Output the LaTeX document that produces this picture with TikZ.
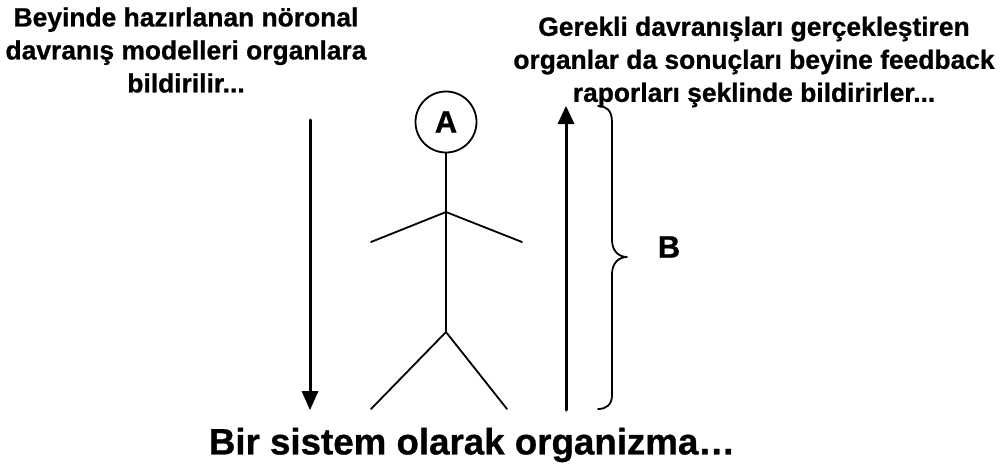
\documentclass[tikz,border=0pt]{standalone}
\usepackage{fontspec}
\setmainfont[BoldFeatures={FakeBold=0.8}]{Liberation Sans}
\begin{document}
\begin{tikzpicture}[x=1pt,y=-1pt,line join=round,line cap=round,>=stealth,
	txt/.style={font=\bfseries\fontsize{26.4}{33}\selectfont,align=center,inner sep=0pt},
	bigtxt/.style={font=\bfseries\fontsize{31}{34}\selectfont,inner sep=0pt},
	limb/.style={line width=1.8pt}]
	\useasboundingbox (0,0) rectangle (1000,463);
	\node[txt] (left) at (186,50) {Beyinde hazırlanan nöronal\\davranış modelleri organlara\\bildirilir...};
	\node[txt] (right) at (754,62) {Gerekli davranışları gerçekleştiren\\organlar da sonuçları beyine feedback\\raporları şeklinde bildirirler...};
	\node[txt,font=\bfseries\fontsize{36.7}{40}\selectfont] (title) at (472,445) {Bir sistem olarak organizma…};
	\node[bigtxt] (b) at (669,247) {B};
	\node[draw,circle,limb,minimum size=61pt,inner sep=0pt,bigtxt] (a) at (446,122) {A};
	\coordinate (neck) at (446,212);
	\coordinate (hip) at (446,332);
	\draw[limb] (a.south)--(hip);
	\draw[limb] (371,242)--(neck)--(522,242);
	\draw[limb] (371,409)--(hip)--(507,409);
	\coordinate (dtop) at (310,120);
	\coordinate (dbot) at (310,410);
	\coordinate (utop) at (566,106);
	\coordinate (ubot) at (566,410);
	\draw[line width=3pt] (dtop)--(310,392);
	\fill (dbot)--(301.5,391)--(318.5,391)--cycle;
	\draw[line width=3pt] (ubot)--(566,124);
	\fill (utop)--(557.5,124)--(574.5,124)--cycle;
	\draw[limb] (598,106) .. controls (606,106) and (612,110) .. (612,122)
		-- (612,240) .. controls (612,250) and (618,257) .. (627,257)
		.. controls (618,257) and (612,264) .. (612,274)
		-- (612,395) .. controls (612,405) and (606,409) .. (598,409);
\end{tikzpicture}
\end{document}
